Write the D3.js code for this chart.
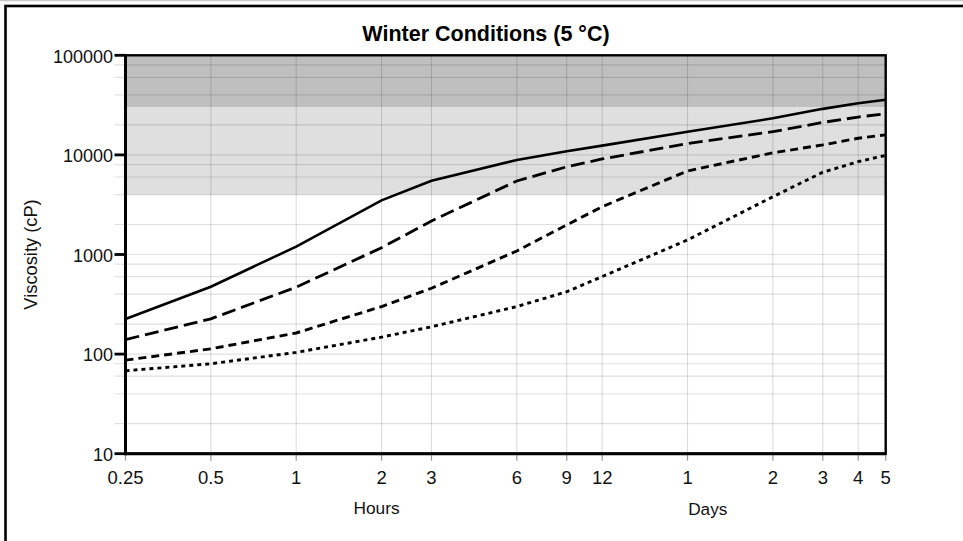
<!DOCTYPE html>
<html>
<head>
<meta charset="utf-8">
<script src="https://cdn.jsdelivr.net/npm/d3@7"></script>
<style>
  html, body { margin: 0; padding: 0; background: #fff; }
  svg { display: block; font-family: "Liberation Sans", Arial, Helvetica, sans-serif; }
</style>
</head>
<body>
<svg id="chart" width="963" height="541"></svg>
<script>
// Elapsed time in hours at each sample point
const hours = [0.25, 0.5, 1, 2, 3, 6, 9, 12, 24, 48, 72, 96, 120];

// Viscosity (cP) for the four curves
const seriesSolid  = [225, 475, 1200, 3500, 5500, 8900, 10900, 12400, 17100, 23300, 29000, 33000, 35800];
const seriesLong   = [140, 226, 470, 1170, 2170, 5470, 7600, 9100, 13000, 17100, 21200, 24000, 25900];
const seriesMedium = [87, 113, 163, 300, 458, 1085, 1980, 3020, 6900, 10500, 12600, 14700, 15900];
const seriesShort  = [68, 80, 104, 148, 188, 300, 423, 600, 1400, 3800, 6700, 8550, 9900];

// Axis ticks
const xTickHours  = [0.25, 0.5, 1, 2, 3, 6, 9, 12, 24, 48, 72, 96, 120];
const xTickLabels = ["0.25", "0.5", "1", "2", "3", "6", "9", "12", "1", "2", "3", "4", "5"];
const yTicks      = [10, 100, 1000, 10000, 100000];
const yTickLabels = ["10", "100", "1000", "10000", "100000"];

// Shaded viscosity ranges [low, high]
const bandHigh = [30000, 100000];
const bandMid  = [4000, 30000];

const svg = d3.select("#chart");

const plot = { left: 125.5, right: 885.7, top: 55.3, bottom: 453.7 };

const x = d3.scaleLog().domain([0.25, 120]).range([plot.left, plot.right]);
const y = d3.scaleLog().domain([10, 100000]).range([plot.bottom, plot.top]);

// outer frame
svg.append("line").attr("x1", 0).attr("x2", 963).attr("y1", 0.5).attr("y2", 0.5)
  .attr("stroke", "#c8c8c8").attr("stroke-width", 1.5);
svg.append("rect").attr("x", 5.5).attr("y", 6).attr("width", 1000).attr("height", 600)
  .attr("fill", "none").attr("stroke", "#000").attr("stroke-width", 2.6);

// shaded bands
svg.append("rect")
  .attr("x", x(0.25)).attr("width", x(120) - x(0.25))
  .attr("y", y(bandHigh[1])).attr("height", y(bandHigh[0]) - y(bandHigh[1]))
  .attr("fill", "#bfbfbf");
svg.append("rect")
  .attr("x", x(0.25)).attr("width", x(120) - x(0.25))
  .attr("y", y(bandMid[1])).attr("height", y(bandMid[0]) - y(bandMid[1]))
  .attr("fill", "#dfdfdf");

// horizontal grid at 1, 2, 4, 6, 8 of each decade
const gridY = [];
for (let p = 1; p <= 4; p++) {
  [1, 2, 4, 6, 8].forEach(m => gridY.push(m * Math.pow(10, p)));
}
gridY.push(100000);
svg.append("g").selectAll("line").data(gridY).join("line")
  .attr("x1", plot.left - 11).attr("x2", plot.right)
  .attr("y1", d => y(d)).attr("y2", d => y(d))
  .attr("stroke", "#000").attr("stroke-opacity", 0.12).attr("stroke-width", 1.2);

// vertical grid at the labelled times
svg.append("g").selectAll("line").data(xTickHours.slice(1, -1)).join("line")
  .attr("x1", d => x(d)).attr("x2", d => x(d))
  .attr("y1", plot.top).attr("y2", plot.bottom)
  .attr("stroke", "#000").attr("stroke-opacity", 0.14).attr("stroke-width", 1.1);

// curves
const line = d3.line()
  .x(d => x(d[0]))
  .y(d => y(d[1]));

const curves = [
  { values: seriesSolid,  dash: null,   width: 2.6 },
  { values: seriesLong,   dash: "14,6", width: 2.8 },
  { values: seriesMedium, dash: "8,5",  width: 2.9 },
  { values: seriesShort,  dash: "4,4",  width: 2.9 }
];

svg.append("g").selectAll("path").data(curves).join("path")
  .attr("d", c => line(hours.map((h, i) => [h, c.values[i]])))
  .attr("fill", "none")
  .attr("stroke", "#000")
  .attr("stroke-width", c => c.width)
  .attr("stroke-dasharray", c => c.dash);

// x axis small ticks
svg.append("g").selectAll("line").data(xTickHours).join("line")
  .attr("x1", d => x(d)).attr("x2", d => x(d))
  .attr("y1", plot.bottom).attr("y2", plot.bottom + 7)
  .attr("stroke", "#999").attr("stroke-width", 1.2);

// plot frame
svg.append("rect")
  .attr("x", plot.left).attr("y", plot.top)
  .attr("width", plot.right - plot.left).attr("height", plot.bottom - plot.top)
  .attr("fill", "none").attr("stroke", "#000").attr("stroke-width", 2.4);
svg.append("line")
  .attr("x1", plot.left).attr("x2", plot.left)
  .attr("y1", plot.top - 1).attr("y2", plot.bottom + 1.5)
  .attr("stroke", "#000").attr("stroke-width", 3);
svg.append("line")
  .attr("x1", plot.left).attr("x2", plot.right)
  .attr("y1", plot.bottom).attr("y2", plot.bottom)
  .attr("stroke", "#000").attr("stroke-width", 3);

// y axis major ticks and labels
svg.append("g").selectAll("line").data(yTicks).join("line")
  .attr("x1", plot.left - 11).attr("x2", plot.left)
  .attr("y1", d => y(d)).attr("y2", d => y(d))
  .attr("stroke", "#000").attr("stroke-width", 2.8);
svg.append("g").selectAll("text").data(yTicks).join("text")
  .attr("x", plot.left - 12.5)
  .attr("y", d => y(d) + 7.3)
  .attr("text-anchor", "end")
  .attr("font-size", 18)
  .attr("fill", "#111")
  .text((d, i) => yTickLabels[i]);

// x axis labels
svg.append("g").selectAll("text").data(xTickHours).join("text")
  .attr("x", d => x(d))
  .attr("y", 483.5)
  .attr("text-anchor", "middle")
  .attr("font-size", 18.5)
  .attr("fill", "#111")
  .text((d, i) => xTickLabels[i]);

svg.append("text").attr("x", 376.5).attr("y", 514.3)
  .attr("text-anchor", "middle").attr("font-size", 17.3).attr("fill", "#111")
  .text("Hours");
svg.append("text").attr("x", 707.8).attr("y", 514.5)
  .attr("text-anchor", "middle").attr("font-size", 17.2).attr("fill", "#111")
  .text("Days");

// y axis title
svg.append("text")
  .attr("transform", "translate(37,254.5) rotate(-90)")
  .attr("text-anchor", "middle").attr("font-size", 18.3).attr("fill", "#111")
  .text("Viscosity (cP)");

// chart title
svg.append("text").attr("x", 486).attr("y", 40.7)
  .attr("text-anchor", "middle").attr("font-size", 21.5).attr("font-weight", "bold")
  .attr("fill", "#000")
  .text("Winter Conditions (5 °C)");
</script>
</body>
</html>
